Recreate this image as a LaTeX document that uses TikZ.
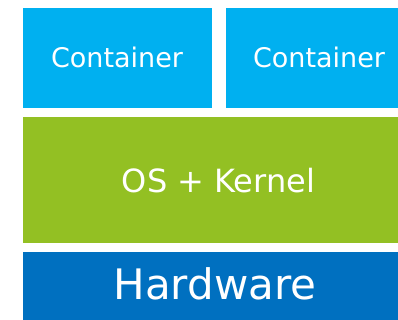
\documentclass[tikz,border=0pt]{standalone}
\usepackage{fontspec}
\setmainfont{DejaVu Sans}
\definecolor{ctrblue}{RGB}{0,176,240}
\definecolor{osgreen}{RGB}{147,192,35}
\definecolor{hwblue}{RGB}{0,112,192}
\begin{document}
\begin{tikzpicture}[x=1pt,y=-1pt,
  layer/.style={rectangle,inner sep=0pt,outer sep=0pt,draw=none,anchor=north west},
  lbl/.style={text=white,inner sep=0pt,anchor=base}]
\useasboundingbox (0,0) rectangle (398,320);
\clip (0,0) rectangle (398,320);
% container row
\node[layer,fill=ctrblue,minimum width=189pt,minimum height=100pt] (c1) at (23,8) {};
\node[layer,fill=ctrblue,minimum width=189pt,minimum height=100pt] (c2) at (226,8) {};
% operating system layer
\node[layer,fill=osgreen,minimum width=392pt,minimum height=126pt] (os) at (23,117) {};
% hardware layer
\node[layer,fill=hwblue,minimum width=392pt,minimum height=80pt] (hw) at (23,252) {};
% labels
\node[lbl,font=\fontsize{27}{30}\selectfont] (c1t) at (117,68) {Container};
\node[lbl,font=\fontsize{27}{30}\selectfont] (c2t) at (319,68) {Container};
\node[lbl,font=\fontsize{32}{36}\selectfont] (ost) at (218.5,193) {OS + Kernel};
\node[lbl,font=\fontsize{42}{48}\selectfont] (hwt) at (215,299) {Hardware};
\end{tikzpicture}
\end{document}
